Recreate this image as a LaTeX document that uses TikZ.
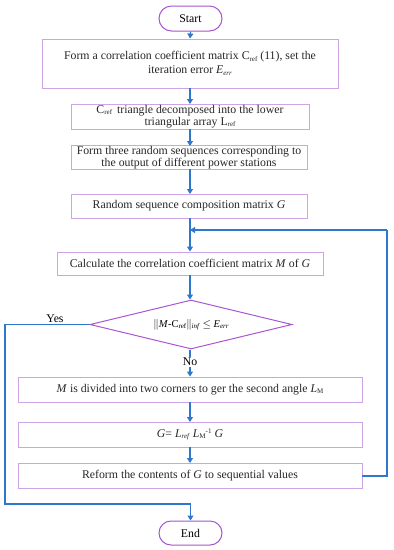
\documentclass[tikz,border=0pt]{standalone}
\usepackage{fontspec}
\setmainfont{Liberation Serif}
\usetikzlibrary{shapes.geometric,shapes.misc,arrows.meta}
\definecolor{flowblue}{RGB}{45,120,205}
\definecolor{boxpurple}{RGB}{205,165,230}
\definecolor{termpurple}{RGB}{165,85,205}
\definecolor{diapurple}{RGB}{170,85,210}
\newcommand{\sbs}[1]{\raisebox{-0.25ex}{\scriptsize #1}}
\tikzset{
  procbox/.style={draw=boxpurple,line width=0.9pt,rectangle,align=center,inner sep=0pt,font=\fontsize{11.8}{12.5}\selectfont,text=black!85},
  termbox/.style={draw=termpurple,line width=1pt,rounded rectangle,minimum width=65pt,minimum height=25pt,inner sep=1pt,font=\fontsize{11.8}{13}\selectfont},
  decbox/.style={draw=diapurple,line width=1pt,diamond,aspect=4.1,inner sep=0pt,minimum width=202pt,minimum height=49pt,font=\fontsize{10.5}{12}\selectfont},
  flow/.style={draw=flowblue,line width=1.2pt,-{Triangle[length=5pt,width=6pt]}},
  flowline/.style={draw=flowblue,line width=1.2pt},
  lbl/.style={font=\fontsize{11.8}{13}\selectfont,inner sep=1pt}
}
\begin{document}
\begin{tikzpicture}[x=1pt,y=-1pt]
\useasboundingbox (0,0) rectangle (394,550);
\node[termbox] (start) at (190.5,18.5) {Start};
\node[procbox,minimum width=296pt,minimum height=49pt,font=\fontsize{11.8}{14}\selectfont] (b1) at (190,63.5) {Form a correlation coefficient matrix C\sbs{ref} (11), set the\\iteration error \textit{E}\sbs{\textit{err}}};
\node[procbox,minimum width=238pt,minimum height=25pt] (b2) at (190,116.5) {C\sbs{ref}\, triangle decomposed into the lower\\triangular array L\sbs{ref}};
\node[procbox,minimum width=236pt,minimum height=23pt] (b3) at (189,157.5) {Form three random sequences corresponding to\\the output of different power stations};
\node[procbox,minimum width=236pt,minimum height=24pt] (b4) at (189,206) {Random sequence composition matrix \textit{G}};
\node[procbox,minimum width=266pt,minimum height=23pt] (b5) at (190,263.5) {Calculate the correlation coefficient matrix \textit{M} of \textit{G}};
\node[decbox] (d) at (191,324.5) {$\Vert$\textit{M}-C\sbs{ref}$\Vert$\sbs{\textit{inf}} $\le$ \textit{E}\sbs{\textit{err}}};
\node[procbox,minimum width=344pt,minimum height=25pt] (b6) at (190,389.5) {\textit{M} is divided into two corners to ger the second angle \textit{L}\sbs{M}};
\node[procbox,minimum width=344pt,minimum height=25pt] (b7) at (190,434.5) {\textit{G}= \textit{L}\sbs{\textit{ref}} \textit{L}\sbs{M}\raisebox{0.8ex}{\scriptsize -1} \textit{G}};
\node[procbox,minimum width=344pt,minimum height=25pt] (b8) at (190,475.5) {Reform the contents of \textit{G} to sequential values};
\node[termbox,minimum height=24pt] (end) at (190.5,533) {End};
\coordinate (join) at (190,230);
\coordinate (rb) at (387,476);
\coordinate (rt) at (387,230);
\coordinate (lt) at (5,324.5);
\coordinate (lb) at (5,504);
\coordinate (eb) at (190.5,504);
\draw[flow] (start.south) -- (b1.north);
\draw[flow] (190,88) -- (190,104);
\draw[flow] (190,129) -- (190,146);
\draw[flow] (190,169) -- (190,194);
\draw[flow] (190,218) -- (b5.north -| 190,0);
\draw[flow] (190,275) -- (d.north -| 190,0);
\draw[flow] (d.south -| 190,0) -- node[lbl,fill=white,pos=0.45] (no) {No} (b6.north -| 190,0);
\draw[flow] (190,402) -- (190,422);
\draw[flow] (190,447) -- (190,463);
\draw[flowline] (b8.east |- rb) -- (rb) -- (rt);
\draw[flow] (rt) -- (196,230) -- (join);
\draw[flowline] (d.west) -- (lt) -- (lb) -- (eb);
\draw[flow] (eb) -- (end.north);
\node[lbl,above] (yes) at (55,324) {Yes};
\end{tikzpicture}
\end{document}
